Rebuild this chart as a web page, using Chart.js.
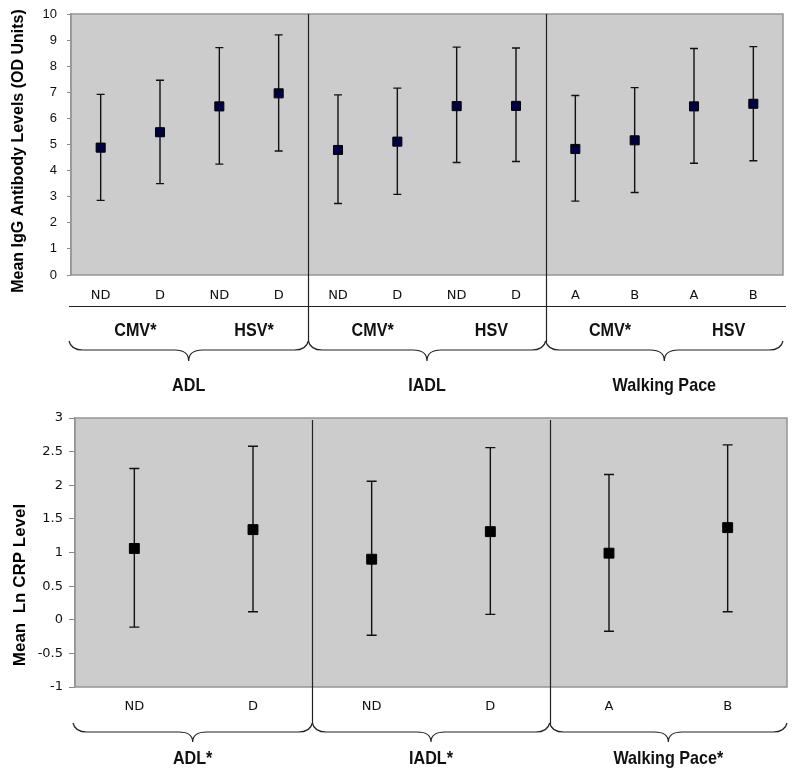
<!DOCTYPE html>
<html>
<head>
<meta charset="utf-8">
<script src="https://cdn.jsdelivr.net/npm/chart.js@4/dist/chart.umd.min.js"></script>
<style>
  html, body { margin: 0; padding: 0; background: #fff; }
  canvas { display: block; }
</style>
</head>
<body>
<canvas id="igg" width="800" height="400"></canvas>
<canvas id="crp" width="800" height="378"></canvas>
<script>
// top panel: IgG antibody levels
const iggLabels = ['ND', 'D', 'ND', 'D', 'ND', 'D', 'ND', 'D', 'A', 'B', 'A', 'B'];
const iggMeans  = [4.88, 5.47, 6.46, 6.96, 4.79, 5.11, 6.47, 6.48, 4.83, 5.16, 6.46, 6.56];
const iggUpper  = [6.92, 7.46, 8.71, 9.20, 6.90, 7.16, 8.73, 8.70, 6.88, 7.18, 8.68, 8.75];
const iggLower  = [2.86, 3.50, 4.25, 4.75, 2.74, 3.09, 4.31, 4.35, 2.83, 3.16, 4.28, 4.38];
const iggSub    = ['CMV*', 'HSV*', 'CMV*', 'HSV', 'CMV*', 'HSV'];
const iggGroups = ['ADL', 'IADL', 'Walking Pace'];

// bottom panel: CRP
const crpLabels = ['ND', 'D', 'ND', 'D', 'A', 'B'];
const crpMeans  = [1.06, 1.34, 0.90, 1.31, 0.99, 1.37];
const crpUpper  = [2.25, 2.58, 2.06, 2.56, 2.16, 2.60];
const crpLower  = [-0.11, 0.12, -0.23, 0.08, -0.17, 0.12];
const crpGroups = ['ADL*', 'IADL*', 'Walking Pace*'];

const FONT = "'Liberation Sans', Arial, sans-serif";
const WIDE = "'DejaVu Sans', 'Liberation Sans', sans-serif";

function brace(ctx, x0, x1, top, mid, tip) {
  const xc = (x0 + x1) / 2;
  const r = 14;
  ctx.beginPath();
  ctx.moveTo(x0, top);
  ctx.quadraticCurveTo(x0 + 2, mid, x0 + r, mid);
  ctx.lineTo(xc - r, mid);
  ctx.quadraticCurveTo(xc, mid, xc, tip);
  ctx.quadraticCurveTo(xc, mid, xc + r, mid);
  ctx.lineTo(x1 - r, mid);
  ctx.quadraticCurveTo(x1 - 2, mid, x1, top);
  ctx.stroke();
}

// bold text squeezed a bit horizontally, like the narrow face in the original
function narrowText(ctx, text, x, y, size) {
  ctx.save();
  ctx.translate(x, y);
  ctx.scale(0.85, 1);
  ctx.font = 'bold ' + size + 'px ' + FONT;
  ctx.fillText(text, 0, 0);
  ctx.restore();
}

function panel(cfg) {
  return {
    id: 'panel',
    beforeDraw(chart) {
      const { ctx, chartArea: a } = chart;
      ctx.save();
      ctx.fillStyle = '#cccccc';
      ctx.fillRect(a.left, a.top, a.right - a.left, a.bottom - a.top);
      ctx.strokeStyle = '#959595';
      ctx.lineWidth = 1.5;
      ctx.strokeRect(a.left, a.top, a.right - a.left, a.bottom - a.top);
      ctx.restore();
    },
    beforeDatasetsDraw(chart) {
      const { ctx, scales: { x, y } } = chart;
      ctx.save();
      ctx.strokeStyle = '#111';
      ctx.lineWidth = 1.4;
      cfg.upper.forEach((hi, i) => {
        const px = x.getPixelForValue(i);
        const t = y.getPixelForValue(hi);
        const b = y.getPixelForValue(cfg.lower[i]);
        ctx.beginPath();
        ctx.moveTo(px, t); ctx.lineTo(px, b);
        ctx.moveTo(px - cfg.cap, t); ctx.lineTo(px + cfg.cap, t);
        ctx.moveTo(px - cfg.cap, b); ctx.lineTo(px + cfg.cap, b);
        ctx.stroke();
      });
      ctx.restore();
    },
    afterDraw(chart) {
      const { ctx, chartArea: a, scales: { x } } = chart;
      const step = x.getPixelForValue(1) - x.getPixelForValue(0);
      const edge = i => x.getPixelForValue(i) - step / 2;
      const n = cfg.groups.length;
      const size = cfg.labels.length / n;

      ctx.save();
      ctx.strokeStyle = '#222';
      ctx.lineWidth = 1.2;

      // separators between groups
      for (let g = 1; g < n; g++) {
        const sx = Math.round(edge(g * size)) + 0.5;
        ctx.beginPath();
        ctx.moveTo(sx, a.top + cfg.sepTop);
        ctx.lineTo(sx, cfg.braceTop + 1);
        ctx.stroke();
      }

      if (cfg.ruleY) {
        ctx.beginPath();
        ctx.moveTo(a.left - 2, cfg.ruleY);
        ctx.lineTo(a.right + 3, cfg.ruleY);
        ctx.stroke();
      }

      ctx.fillStyle = '#111';
      ctx.textAlign = 'center';
      ctx.textBaseline = 'middle';

      if (cfg.sub) {
        cfg.sub.forEach((s, j) => {
          const cx = (edge(2 * j) + edge(2 * j + 2)) / 2 + 5;
          narrowText(ctx, s, cx, cfg.subY, 19);
        });
      }

      for (let g = 0; g < n; g++) {
        const x0 = g === 0 ? a.left - 2 : edge(g * size);
        const x1 = g === n - 1 ? a.right : edge((g + 1) * size);
        brace(ctx, x0, x1, cfg.braceTop, cfg.braceMid, cfg.braceTip);
        narrowText(ctx, cfg.groups[g], (x0 + x1) / 2, cfg.groupY, 19);
      }

      // y axis title
      ctx.save();
      ctx.translate(cfg.titleX, cfg.titleY);
      ctx.rotate(-Math.PI / 2);
      ctx.fillStyle = '#000';
      ctx.font = 'bold ' + cfg.titleSize + 'px ' + FONT;
      ctx.fillText(cfg.title, 0, 0);
      ctx.restore();

      ctx.restore();
    }
  };
}

function makeChart(id, o) {
  new Chart(document.getElementById(id), {
    type: 'line',
    data: {
      labels: o.labels,
      datasets: [{
        data: o.means,
        showLine: false,
        pointStyle: 'rect',
        pointRadius: o.radius,
        pointHoverRadius: o.radius,
        backgroundColor: o.markerFill,
        borderColor: '#000',
        borderWidth: 1,
      }],
    },
    options: {
      responsive: false,
      animation: false,
      devicePixelRatio: 1,
      layout: { padding: o.padding },
      plugins: {
        legend: { display: false },
        tooltip: { enabled: false },
      },
      scales: {
        x: {
          type: 'category',
          offset: true,
          afterFit: s => { s.height = o.xHeight; },
          grid: { display: false, drawTicks: false },
          border: { display: false },
          ticks: {
            padding: o.xPad,
            color: '#111',
            font: { family: WIDE, size: 13 },
            maxRotation: 0,
            autoSkip: false,
          },
        },
        y: {
          min: o.min,
          max: o.max,
          afterFit: s => {
            s.width = o.yWidth;
            s.paddingTop = 8;
            s.paddingBottom = 8;
          },
          grid: { drawOnChartArea: false, tickLength: o.tickLen, color: '#888' },
          border: { color: '#959595', width: 1.5 },
          ticks: {
            stepSize: o.step,
            padding: o.tickPad,
            color: '#111',
            font: { family: o.tickFont, size: 13 },
            callback: v => String(v),
          },
        },
      },
    },
    plugins: [panel(o)],
  });
}

makeChart('igg', {
  labels: iggLabels, means: iggMeans, upper: iggUpper, lower: iggLower,
  sub: iggSub, groups: iggGroups,
  title: 'Mean IgG Antibody Levels (OD Units)', titleX: 19, titleY: 151, titleSize: 16,
  min: 0, max: 10, step: 1,
  padding: { left: 0, right: 17, top: 14, bottom: 0 },
  yWidth: 71, xHeight: 125, xPad: 13,
  tickLen: 4, tickPad: 10, tickFont: FONT,
  radius: 6.4, markerFill: '#000040', cap: 4,
  sepTop: 0, ruleY: 306.5, subY: 331,
  braceTop: 341, braceMid: 350, braceTip: 361, groupY: 386,
});

makeChart('crp', {
  labels: crpLabels, means: crpMeans, upper: crpUpper, lower: crpLower,
  sub: null, groups: crpGroups,
  title: 'Mean  Ln CRP Level', titleX: 20, titleY: 185, titleSize: 17,
  min: -1, max: 3, step: 0.5,
  padding: { left: 0, right: 13, top: 18, bottom: 0 },
  yWidth: 75, xHeight: 91, xPad: 12,
  tickLen: 6, tickPad: 6, tickFont: WIDE,
  radius: 7, markerFill: '#000', cap: 5,
  sepTop: 2, ruleY: null,
  braceTop: 323, braceMid: 332, braceTip: 342, groupY: 359,
});
</script>
</body>
</html>
